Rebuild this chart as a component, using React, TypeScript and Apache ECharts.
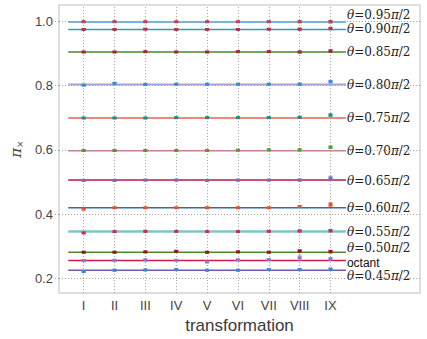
import React, { useEffect, useRef } from "react";
import * as echarts from "echarts";

const categories = ["I", "II", "III", "IV", "V", "VI", "VII", "VIII", "IX"];
const xPositions = [1, 2, 3, 4, 5, 6, 7, 8, 9];
const yTicks = [0.2, 0.4, 0.6, 0.8, 1.0];

const seriesNames = [
  "0.95", "0.90", "0.85", "0.80", "0.75", "0.70",
  "0.65", "0.60", "0.55", "0.50", "octant", "0.45",
];

// theoretical (horizontal line) values
const lineValues = [0.997, 0.974, 0.904, 0.803, 0.699, 0.597, 0.506, 0.42, 0.346, 0.282, 0.256, 0.226];

// measured values at transformations I..IX
const points095 = [0.998, 0.998, 0.998, 0.998, 0.998, 0.998, 0.998, 0.998, 0.998];
const points090 = [0.974, 0.974, 0.975, 0.974, 0.974, 0.974, 0.975, 0.975, 0.977];
const points085 = [0.904, 0.904, 0.905, 0.904, 0.904, 0.905, 0.905, 0.904, 0.907];
const points080 = [0.801, 0.807, 0.803, 0.804, 0.804, 0.804, 0.804, 0.804, 0.812];
const points075 = [0.699, 0.699, 0.699, 0.7, 0.7, 0.7, 0.7, 0.701, 0.708];
const points070 = [0.598, 0.598, 0.598, 0.598, 0.598, 0.599, 0.6, 0.6, 0.608];
const points065 = [0.505, 0.505, 0.506, 0.506, 0.505, 0.506, 0.506, 0.506, 0.512];
const points060 = [0.416, 0.42, 0.42, 0.42, 0.42, 0.42, 0.42, 0.424, 0.43];
const points055 = [0.342, 0.346, 0.347, 0.347, 0.346, 0.346, 0.347, 0.348, 0.349];
const points050 = [0.282, 0.282, 0.283, 0.285, 0.282, 0.283, 0.282, 0.286, 0.284];
const pointsOct = [0.256, 0.257, 0.258, 0.257, 0.252, 0.258, 0.259, 0.265, 0.261];
const points045 = [0.222, 0.226, 0.227, 0.228, 0.226, 0.226, 0.228, 0.228, 0.229];

const errSmall = [0.002, 0.002, 0.002, 0.002, 0.002, 0.002, 0.002, 0.003, 0.004];
const errOct = [0.002, 0.002, 0.003, 0.002, 0.003, 0.003, 0.003, 0.008, 0.004];
const err065 = [0.002, 0.002, 0.002, 0.002, 0.002, 0.002, 0.002, 0.003, 0.006];
const err060 = [0.002, 0.002, 0.002, 0.002, 0.002, 0.002, 0.002, 0.003, 0.006];

const pointSets = [
  points095, points090, points085, points080, points075, points070,
  points065, points060, points055, points050, pointsOct, points045,
];
const errSets = [
  errSmall, errSmall, errSmall, errSmall, errSmall, errSmall,
  err065, err060, errSmall, errSmall, errOct, errSmall,
];

const lineColors = [
  "#4a9bd4", "#2f9fa6", "#7ba55c", "#aaa2d4", "#f0887a", "#d7728c",
  "#cb5274", "#2f6ea8", "#7cc6c6", "#4a8c2c", "#d31a4a", "#7656b0",
];
const lineWidths = [1.5, 1.5, 2, 2, 2, 1.5, 2, 1.5, 2.5, 1.5, 1.5, 1.5];
const pointColors = [
  "#c2404f", "#b3334a", "#a3283a", "#3a8ad0", "#1e8a8a", "#5a9a30",
  "#7a68b8", "#e85030", "#c83058", "#a01028", "#8a78c8", "#3a88c8",
];
const labelOffsets = [-7, 0, 0, 0, 0, 0, 1, 0, 0, -4, 2, 6];

const App: React.FC = () => {
  const ref = useRef<HTMLDivElement>(null);

  useEffect(() => {
    if (!ref.current) return;
    const chart = echarts.init(ref.current, undefined, { renderer: "svg" });

    const series: any[] = [];

    // grid lines drawn via markLine
    series.push({
      type: "line",
      data: [],
      silent: true,
      z: 4,
      markLine: {
        silent: true,
        symbol: "none",
        label: { show: false },
        lineStyle: { color: "#a0a0a0", type: [1, 2], width: 1 },
        data: [
          ...xPositions.map((x) => ({ xAxis: x })),
          ...yTicks.map((y) => ({ yAxis: y })),
        ],
      },
    });

    seriesNames.forEach((name, i) => {
      const txt =
        name === "octant"
          ? "{o|octant}"
          : `{th|θ}{n|=${name}}{th|π}{n|/2}`;
      series.push({
        type: "line",
        name,
        data: [
          [0.5, lineValues[i]],
          [9.5, lineValues[i]],
        ],
        symbol: "none",
        z: 2,
        silent: true,
        lineStyle: { color: lineColors[i], width: lineWidths[i] },
        endLabel: {
          show: true,
          formatter: () => txt,
          distance: 1,
          offset: [0, labelOffsets[i]],
          rich: {
            th: { fontFamily: "DejaVu Serif", fontStyle: "italic", fontSize: 12, color: "#222", lineHeight: 10 },
            n: { fontFamily: "DejaVu Serif", fontSize: 12, color: "#222", lineHeight: 10 },
            o: { fontFamily: "Liberation Sans", fontSize: 12, color: "#111", lineHeight: 9 },
          },
        },
      });
      series.push({
        type: "custom",
        name: name + "-pts",
        z: 5,
        silent: true,
        itemStyle: { color: pointColors[i] },
        data: pointSets[i].map((v, k) => [xPositions[k], v, errSets[i][k]]),
        renderItem: (params: any, api: any) => {
          const x = api.value(0);
          const y = api.value(1);
          const e = api.value(2);
          const p = api.coord([x, y]);
          const t = api.coord([x, y + e]);
          const b = api.coord([x, y - e]);
          const c = pointColors[i];
          return {
            type: "group",
            children: [
              { type: "line", shape: { x1: p[0], y1: t[1], x2: p[0], y2: b[1] }, style: { stroke: c, lineWidth: 1, opacity: 0.7 } },
              { type: "line", shape: { x1: p[0] - 2, y1: t[1], x2: p[0] + 2, y2: t[1] }, style: { stroke: c, lineWidth: 1, opacity: 0.7 } },
              { type: "line", shape: { x1: p[0] - 2, y1: b[1], x2: p[0] + 2, y2: b[1] }, style: { stroke: c, lineWidth: 1, opacity: 0.7 } },
              { type: "rect", shape: { x: p[0] - 2, y: p[1] - 1.5, width: 4, height: 3 }, style: { fill: c } },
            ],
          };
        },
      });
    });

    chart.setOption({
      animation: false,
      backgroundColor: "#ffffff",
      grid: {
        left: 47,
        right: 7,
        top: 5,
        bottom: 43,
        show: true,
        borderColor: "#d4d4d4",
        borderWidth: 1.5,
        backgroundColor: "#ffffff",
      },
      xAxis: {
        type: "value",
        min: 0.2,
        max: 11.9,
        name: "transformation",
        nameLocation: "middle",
        nameGap: 19,
        nameTextStyle: { fontFamily: "Liberation Sans", fontSize: 17, color: "#3a3a3a" },
        axisLine: { show: false },
        axisTick: { show: false },
        splitLine: { show: false },
        axisLabel: {
          customValues: xPositions,
          formatter: (v: number) => categories[Math.round(v) - 1] ?? "",
          fontFamily: "Liberation Sans",
          fontSize: 13,
          color: "#444",
          margin: 6,
        },
      },
      yAxis: {
        type: "value",
        min: 0.155,
        max: 1.05,
        name: "{p|π}{s|×}",
        nameLocation: "middle",
        nameGap: 30,
        nameTextStyle: {
          rich: {
            p: { fontFamily: "DejaVu Serif", fontStyle: "italic", fontSize: 15, color: "#444" },
            s: { fontFamily: "DejaVu Sans", fontSize: 9, color: "#444", verticalAlign: "bottom", padding: [8, 0, 0, 0] },
          },
        },
        axisLine: { show: false },
        axisTick: {
          show: true,
          customValues: yTicks,
          length: 4,
          lineStyle: { color: "#a0a0a0", type: [1, 2] },
        },
        splitLine: { show: false },
        axisLabel: {
          customValues: yTicks,
          formatter: (v: number) => v.toFixed(1),
          fontFamily: "Liberation Sans",
          fontSize: 13,
          color: "#444",
          margin: 6,
        },
      },
      series,
    });

    return () => chart.dispose();
  }, []);

  return (
    <div
      ref={ref}
      style={{ position: "fixed", left: 0, top: 0, width: 427, height: 339 }}
    />
  );
};

export default App;
